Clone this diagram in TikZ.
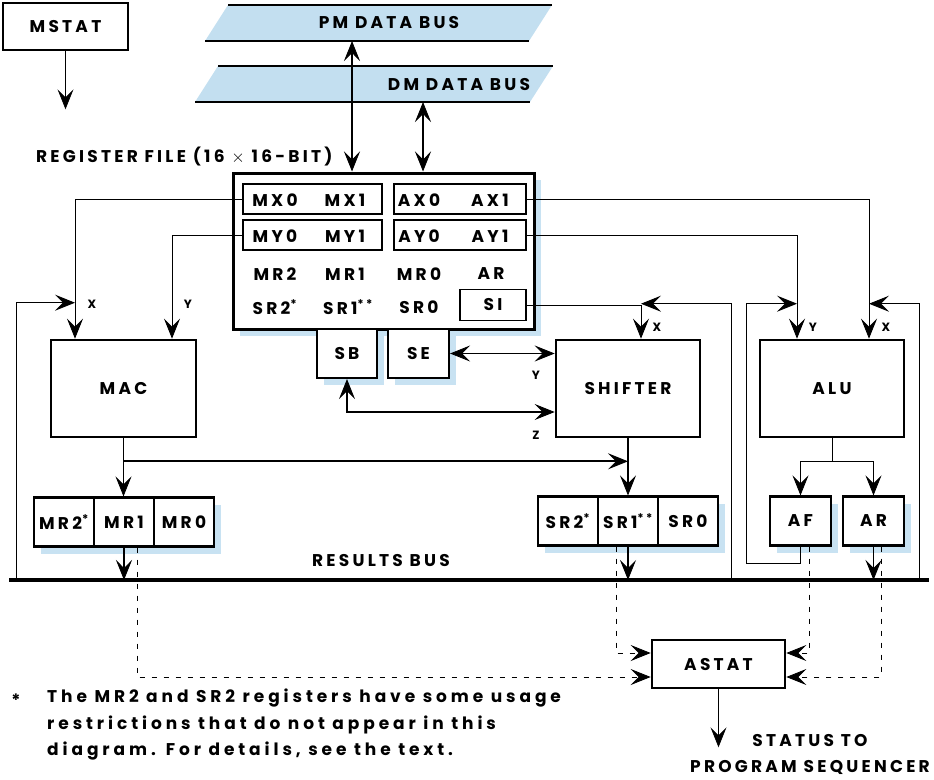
\documentclass[tikz,border=0pt]{standalone}
\usepackage{fontspec}
\setmainfont{Poppins}[LetterSpace=19]
\newfontfamily\notefont{Poppins}[LetterSpace=23]
\usetikzlibrary{arrows.meta,calc,shadows}
\definecolor{busblue}{HTML}{C3DFF0}
\definecolor{shadowblue}{HTML}{C8E2F2}
\newcommand{\lbl}{\fontsize{17}{20}\selectfont\bfseries}
\tikzset{vee/.tip={Stealth[length=20pt,width=16pt,inset=8pt,line width=0.8pt]}}

\begin{document}
\begin{tikzpicture}[x=1pt,y=-1pt,
  lifted/.style={drop shadow={shadow xshift=7pt,shadow yshift=-7pt,fill=shadowblue,opacity=1}},
  blk/.style={draw,line width=2.6pt,fill=white,inner sep=0pt,font=\lbl},
  unit/.style={blk,minimum width=144pt,minimum height=97pt},
  reg/.style={blk,lifted,line width=2.2pt,minimum width=60pt,minimum height=49pt},
  pair/.style={draw,line width=1.3pt,inner sep=0pt,minimum height=30pt,font=\lbl},
  txt/.style={font=\lbl,inner sep=0pt},
  tag/.style={font=\fontsize{12}{14}\selectfont\bfseries,inner sep=0pt},
  wire/.style={line width=1pt},
  arr/.style={-vee,line width=1pt},
  fat/.style={-vee,line width=1.8pt},
  both/.style={vee-vee},
  dsh/.style={-vee,line width=1pt,dash pattern=on 5pt off 7pt}]
\useasboundingbox (0,0) rectangle (934,779);
\fill[busblue] (228,5) -- (552,5) -- (529,41) -- (205,41) -- cycle;
\draw[line width=1.5pt] (228,5) -- (552,5) (205,41) -- (529,41);
\fill[busblue] (218,66) -- (553,66) -- (530,102) -- (195,102) -- cycle;
\draw[line width=1.5pt] (218,66) -- (553,66) (195,102) -- (530,102);
\node[txt] (pmbus) at (389,23) {PM DATA BUS};
\node[txt] (dmbus) at (459,85) {DM DATA BUS};
\coordinate (pmtap) at (352,41);
\coordinate (dmtap) at (423,102);
\node[blk,minimum width=125pt,minimum height=47pt] (mstat) at (65.5,26.5) {MSTAT};
\node[txt,anchor=west] (rftitle) at (36,157) {REGISTER FILE (16 $\times$ 16-BIT)};
\node[blk,lifted,line width=3pt,minimum width=301pt,minimum height=156pt] (regfile) at (383.5,251) {};
\node[pair,minimum width=139pt] (mxpair) at (312.5,199) {};
\node[pair,minimum width=132pt] (axpair) at (460,199) {};
\node[pair,minimum width=139pt] (mypair) at (312.5,235) {};
\node[pair,minimum width=132pt] (aypair) at (460,235) {};
\node[pair,minimum width=66pt,minimum height=31pt] (si) at (493,305) {SI};
\node[txt] (fmx0) at (275,200) {MX0};
\node[txt] (fmx1) at (345,200) {MX1};
\node[txt] (fax0) at (419,200) {AX0};
\node[txt] (fax1) at (490,200) {AX1};
\node[txt] (fmy0) at (275,236) {MY0};
\node[txt] (fmy1) at (345,236) {MY1};
\node[txt] (fay0) at (419,236) {AY0};
\node[txt] (fay1) at (490,236) {AY1};
\node[txt] (fmr2) at (275,274) {MR2};
\node[txt] (fmr1) at (345,274) {MR1};
\node[txt] (fmr0) at (419,274) {MR0};
\node[txt] (far) at (491,274) {AR};
\node[txt] (fsr2) at (275,307) {SR2\textsuperscript{*}};
\node[txt] (fsr1) at (348,307) {SR1\textsuperscript{**}};
\node[txt] (fsr0) at (419,307) {SR0};
\node[reg] (sb) at (347,353.5) {SB};
\node[reg,minimum width=61pt] (se) at (418.5,353.5) {SE};
\node[unit,minimum width=145pt] (mac) at (123.5,388.5) {MAC};
\node[unit] (shifter) at (628,388.5) {SHIFTER};
\node[unit] (alu) at (832,388.5) {ALU};
\node[reg] (mrtwo) at (64,522) {MR2\textsuperscript{*}};
\node[reg] (mrone) at (124,522) {MR1};
\node[reg] (mrzero) at (184,522) {MR0};
\node[reg] (srtwo) at (568,521) {SR2\textsuperscript{*}};
\node[reg] (srone) at (628,521) {SR1\textsuperscript{**}};
\node[reg] (srzero) at (688,521) {SR0};
\node[reg,minimum width=61pt] (afout) at (800.5,521) {AF};
\node[reg,minimum width=61pt] (arout) at (873.5,521) {AR};
\node[blk,minimum width=133pt,minimum height=48pt] (astat) at (718.5,664) {ASTAT};
\coordinate (busw) at (9,580);
\coordinate (buse) at (929,580);
\coordinate (shfb) at (731,580);
\coordinate (alufb) at (919,580);
\draw[line width=4.5pt] (busw) -- (buse);
\node[txt] (busname) at (381,561) {RESULTS BUS};
\node[tag] (macx) at (92,304) {X};
\node[tag] (macy) at (188,304) {Y};
\node[tag] (shx) at (657,327) {X};
\node[tag] (shy) at (536,375) {Y};
\node[tag] (shz) at (536,435) {Z};
\node[tag] (aluy) at (813,327) {Y};
\node[tag] (alux) at (886,327) {X};
\draw[arr] (mstat.south) -- ++(0,58);
\draw[both,line width=1.5pt] (pmtap) -- (pmtap |- regfile.north);
\draw[both,line width=1.5pt] (dmtap) -- (dmtap |- regfile.north);
\draw[arr] (mxpair.west) -| ($(mac.north)+(-48.5,0)$);
\draw[arr] (mypair.west) -| ($(mac.north)+(48.5,0)$);
\draw[arr] ($(busw)+(7,0)$) |- ($(mac.north)+(-48.5,-36)$);
\draw[fat] (mac.south) -- (mac.south |- mrone.north);
\draw[fat] ($(mac.south)+(0,23)$) -- ($(shifter.south)+(0,23)$);
\draw[fat] (shifter.south) -- (srone.north);
\draw[fat] (mrone.south) -- (mrone.south |- busw);
\draw[fat] (srone.south) -- (srone.south |- busw);
\draw[fat] (arout.south) -- (arout.south |- busw);
\draw[arr] (si.east) -| ($(shifter.north)+(13,0)$);
\draw[arr] (shfb) |- ($(shifter.north)+(13,-35)$);
\draw[both,line width=1.8pt] (se.east) -- (se.east -| shifter.west);
\draw[both,line width=1.2pt] (sb.south) |- ($(shifter.west)+(0,23.5)$);
\draw[arr] (axpair.east) -| ($(alu.north)+(37,0)$);
\draw[arr] (aypair.east) -| ($(alu.north)+(-35,0)$);
\draw[arr] (alufb) |- ($(alu.north)+(37,-35)$);
\draw[arr] (afout.south) -- ++(0,17) -- ++(-54,0) |- ($(alu.north)+(-35,-35)$);
\draw[wire] (alu.south) -- ++(0,23) coordinate (alusplit);
\draw[arr] (alusplit) -| (afout.north);
\draw[arr] (alusplit) -| (arout.north);
\draw[dsh] ($(mrone.south)+(13,0)$) |- ($(astat.west)+(0,13)$);
\draw[dsh] ($(srone.south)+(-12,0)$) |- ($(astat.west)+(0,-11)$);
\draw[dsh] ($(afout.south)+(8.5,0)$) |- ($(astat.east)+(0,-11)$);
\draw[dsh] ($(arout.south)+(7.5,0)$) |- ($(astat.east)+(0,13)$);
\draw[arr] (astat.south) -- ++(0,58);
\node[txt,align=center,font=\fontsize{17}{26}\selectfont\bfseries] (status) at (810,754) {STATUS TO\\PROGRAM SEQUENCER};
\node[txt] (star) at (16,700) {*};
\node[txt,anchor=north west,align=left,font=\notefont\fontsize{17}{26.5}\selectfont\bfseries] (note) at (47,689) {The MR2 and SR2 registers have some usage\\restrictions that do not appear in this\\diagram. For details, see the text.};
\end{tikzpicture}
\end{document}
